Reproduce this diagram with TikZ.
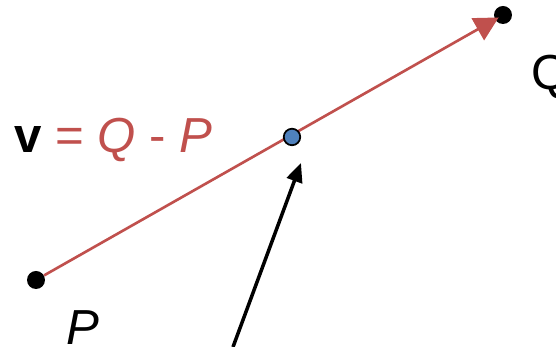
\documentclass[tikz,border=0pt]{standalone}
\usepackage{fontspec}
\setmainfont{Liberation Sans}
\usetikzlibrary{arrows.meta}
\definecolor{vecRed}{HTML}{C0504D}
\definecolor{ptBlue}{HTML}{4F81BD}

\begin{document}
\begin{tikzpicture}[
  x=0.02cm, y=0.02cm,
  pt/.style={circle, fill=black, inner sep=0pt, minimum size=0.36cm},
  midpt/.style={circle, draw=black, fill=ptBlue, line width=1pt, inner sep=0pt, minimum size=0.33cm},
  lbl/.style={font=\fontsize{28}{30}\selectfont, inner sep=0pt},
  vec/.style={-{Triangle[length=0.48cm, width=0.5cm]}, draw=vecRed, line width=1.5pt},
  pointer/.style={-{Triangle[length=0.38cm, width=0.32cm]}, line width=2pt}
]
\useasboundingbox (0,0) rectangle (556,347);
% points
\node[pt] (P) at (36,67) {};
\node[pt] (Q) at (503,332) {};
\node[lbl, anchor=base west] (plabel) at (66,2) {\textit{P}};
\node[lbl, anchor=base west] (qlabel) at (531,257) {Q};
\node[lbl, anchor=base west] (vlabel) at (14,194) {\textbf{v} {\color{vecRed}= \textit{Q} - \textit{P}}};
% vector from P to Q
\draw[vec, shorten >=0.1cm] (P) -- (Q.center);
\node[midpt] (mid) at (292,210) {};
% pointer from below
\coordinate (src) at (233,0);
\coordinate (tip) at (301,184);
\draw[pointer] (src) -- (tip);
\end{tikzpicture}
\end{document}
